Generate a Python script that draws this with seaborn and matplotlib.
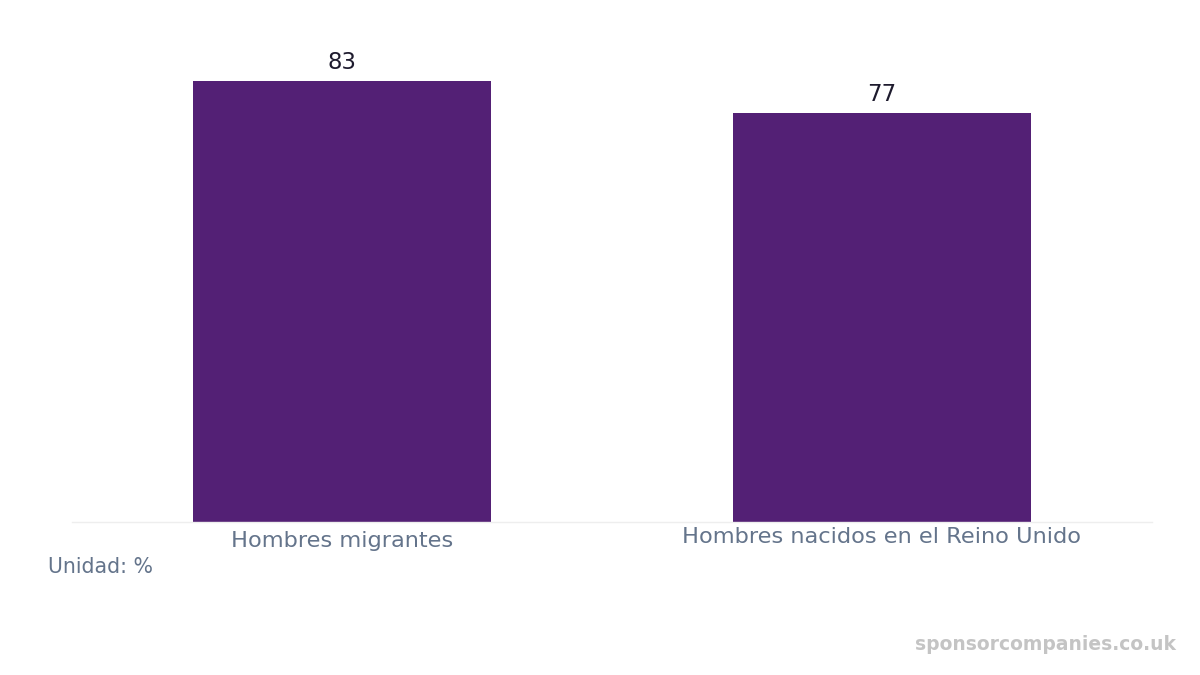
"""
Taux d'emploi des hommes: migrants vs nes au Royaume-Uni (barres simples).
"""

import matplotlib
matplotlib.use("Agg")
import matplotlib.pyplot as plt
import seaborn as sns
import pandas as pd

# Donnees
categories = ["Hombres migrantes", "Hombres nacidos en el Reino Unido"]
valeurs = [83, 77]

COULEUR_BARRE = "#532075"
COULEUR_LABEL = "#64748b"
COULEUR_VALEUR = "#1e1b2e"

df = pd.DataFrame({"categorie": categories, "valeur": valeurs})

sns.set_style("white")
plt.rcParams["font.family"] = ["DejaVu Sans"]

fig = plt.figure(figsize=(12, 6.75), dpi=100)
ax = fig.add_axes([0.06, 0.2267, 0.90, 0.7244])

sns.barplot(data=df, x="categorie", y="valeur", color=COULEUR_BARRE,
            width=0.552, saturation=1, linewidth=0, ax=ax)

ax.set_ylim(0, 92)
ax.set_xlim(-0.5, len(categories) - 0.5)
ax.set_xlabel("")
ax.set_ylabel("")
ax.set_yticks([])
ax.set_xticks(range(len(categories)))
ax.set_xticklabels([])
ax.tick_params(axis="x", length=0)

for cote in ["top", "right", "left"]:
    ax.spines[cote].set_visible(False)
ax.spines["bottom"].set_color("#eeeeee")
ax.spines["bottom"].set_linewidth(1)

# Valeurs au-dessus des barres
for i, v in enumerate(valeurs):
    ax.annotate(str(v), xy=(i, v), xytext=(0, 5), textcoords="offset points",
                ha="center", va="bottom", fontsize=16.5, color=COULEUR_VALEUR)

# Etiquettes de categories (decalage vertical comme dans l'original)
decalages = [6.5, 3.6]
for i, (cat, d) in enumerate(zip(categories, decalages)):
    ax.annotate(cat, xy=(i, 0), xytext=(0, -d), textcoords="offset points",
                ha="center", va="top", fontsize=16.2, color=COULEUR_LABEL)

fig.text(0.04, 0.151, "Unidad: %", fontsize=14.8, color=COULEUR_LABEL,
         ha="left", va="baseline")
fig.text(0.98, 0.037, "sponsorcompanies.co.uk", fontsize=13.5, color="#c4c4c4",
         fontweight="bold", ha="right", va="baseline")

fig.savefig("out.png", dpi=100)
plt.close(fig)
